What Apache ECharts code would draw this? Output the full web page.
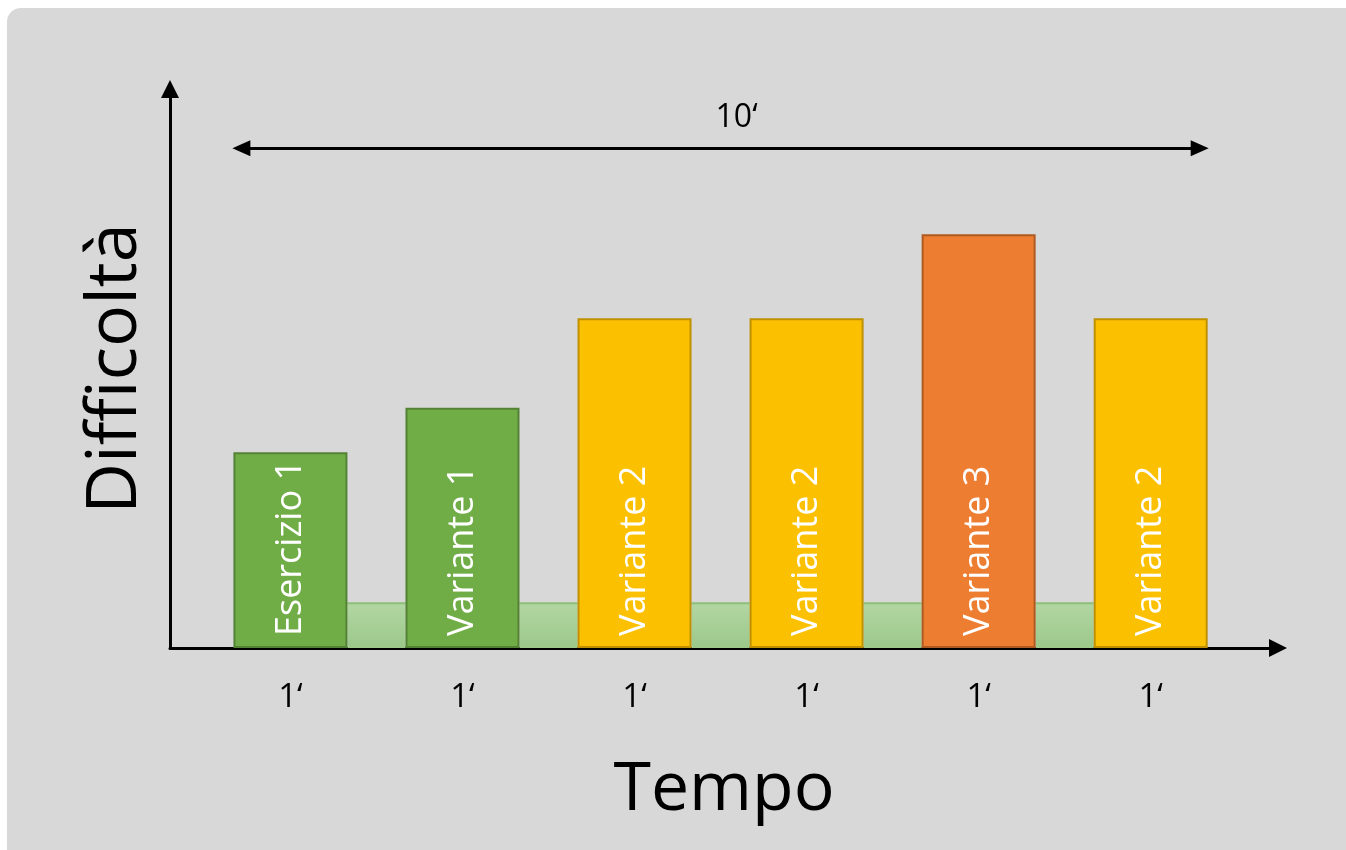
<!DOCTYPE html>
<html>
<head>
<meta charset="utf-8">
<script src="https://cdn.jsdelivr.net/npm/echarts@6/dist/echarts.min.js"></script>
<style>
html,body{margin:0;padding:0;background:#fff;}
#chart{width:1346px;height:850px;}
</style>
</head>
<body>
<div id="chart"></div>
<script>
// ---- data ----
const exercises = ['Esercizio 1', 'Variante 1', 'Variante 2', 'Variante 2', 'Variante 3', 'Variante 2'];
const difficulty = [3.5, 4.3, 5.9, 5.9, 7.4, 5.9];
const durations = ['1\u2018', '1\u2018', '1\u2018', '1\u2018', '1\u2018', '1\u2018'];
const levels = ['green', 'green', 'yellow', 'yellow', 'orange', 'yellow'];
const restLevel = [0.8, 0.8, 0.8, 0.8, 0.8];
const totalLabel = '10\u2018';
const totalLevel = 8.94;
const xName = 'Tempo';
const yName = 'Difficoltà';

const FONT = '"Open Sans", Lato, sans-serif';
const palette = {
  green: { fill: '#70ad47', border: '#548235' },
  yellow: { fill: '#fbc100', border: '#bf9000' },
  orange: { fill: '#ed7d31', border: '#ae5a21' }
};
const BAR_W = 114;

const chart = echarts.init(document.getElementById('chart'), null, { renderer: 'canvas' });

const barData = exercises.map((name, i) => ({
  name: name,
  value: [i, difficulty[i]],
  itemStyle: { color: palette[levels[i]].fill, borderColor: palette[levels[i]].border, borderWidth: 2 }
}));
const restData = restLevel.map((v, i) => [i, v]);

chart.setOption({
  animation: false,
  backgroundColor: '#ffffff',
  graphic: [{
    type: 'rect', z: -100, silent: true,
    shape: { x: 7, y: 8, width: 1400, height: 900, r: 14 },
    style: { fill: '#d8d8d8' }
  }],
  grid: { left: 170, right: 68, top: 89, bottom: 202, containLabel: false },
  xAxis: {
    type: 'value', min: -0.7, max: 5.74,
    name: xName, nameLocation: 'middle', nameGap: 109,
    nameTextStyle: { fontFamily: FONT, fontSize: 68, color: '#000' },
    axisLine: { show: true, onZero: false, symbol: ['none', 'triangle'], symbolSize: [18, 18], lineStyle: { color: '#000', width: 3 } },
    axisTick: { show: false },
    splitLine: { show: false },
    axisLabel: {
      show: true, customValues: [0, 1, 2, 3, 4, 5], margin: 33,
      formatter: v => durations[Math.round(v)] || '',
      fontFamily: FONT, fontSize: 33, color: '#000'
    }
  },
  yAxis: {
    type: 'value', min: 0, max: 10,
    name: yName, nameLocation: 'middle', nameGap: 19, nameRotate: 90,
    nameTextStyle: { fontFamily: FONT, fontSize: 70, color: '#000' },
    axisLine: { show: true, onZero: false, symbol: ['none', 'triangle'], symbolSize: [18, 18], lineStyle: { color: '#000', width: 3 } },
    axisTick: { show: false },
    axisLabel: { show: false },
    splitLine: { show: false }
  },
  series: [
    {
      type: 'custom', z: 1,
      data: restData,
      renderItem: function (params, api) {
        const i = api.value(0), v = api.value(1);
        const p0 = api.coord([i, v]);
        const p1 = api.coord([i + 1, 0]);
        const x0 = p0[0] + BAR_W / 2, x1 = p1[0] - BAR_W / 2;
        return {
          type: 'group',
          children: [
            {
              type: 'rect',
              shape: { x: x0, y: p0[1], width: x1 - x0, height: p1[1] - p0[1] },
              style: {
                fill: new echarts.graphic.LinearGradient(0, 0, 0, 1, [
                  { offset: 0, color: '#b2d6a2' }, { offset: 1, color: '#9cc88a' }
                ])
              }
            },
            {
              type: 'line',
              shape: { x1: x0, y1: p0[1], x2: x1, y2: p0[1] },
              style: { stroke: '#8dbf78', lineWidth: 2 }
            }
          ]
        };
      }
    },
    {
      type: 'bar', z: 2,
      barWidth: BAR_W,
      data: barData,
      label: {
        show: true, position: 'insideBottom', rotate: 90, align: 'left', verticalAlign: 'middle',
        distance: 12, formatter: p => p.name,
        fontFamily: FONT, fontSize: 36, color: '#ffffff'
      },
      markLine: {
        silent: true, animation: false,
        symbol: ['triangle', 'triangle'], symbolSize: [16, 18],
        lineStyle: { color: '#000', width: 3, type: 'solid' },
        label: { show: true, position: 'middle', formatter: totalLabel, fontFamily: FONT, fontSize: 32, color: '#000', distance: 14, offset: [16, 0] },
        emphasis: { disabled: true },
        data: [[{ coord: [-0.285, totalLevel] }, { coord: [5.285, totalLevel] }]]
      }
    }
  ]
});
</script>
</body>
</html>
